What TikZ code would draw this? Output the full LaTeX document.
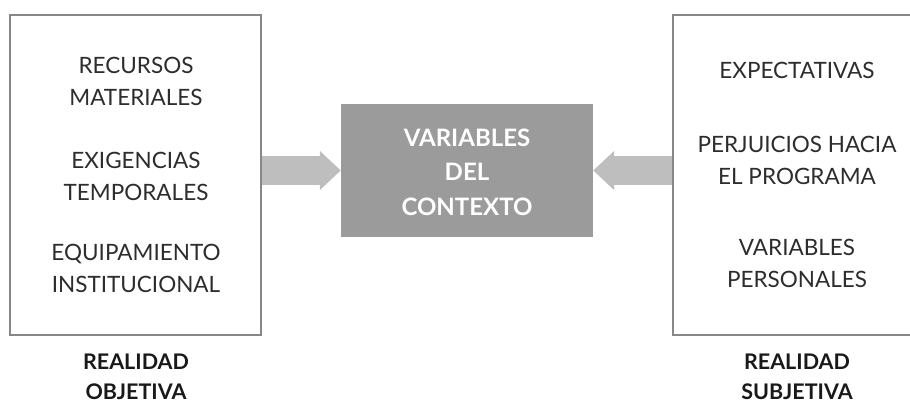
\documentclass[tikz,border=0pt]{standalone}
\usepackage{fontspec}
\setmainfont{Lato}
\usetikzlibrary{arrows.meta}
\definecolor{boxline}{RGB}{135,135,135}
\definecolor{txt}{RGB}{45,45,45}
\definecolor{lbl}{RGB}{25,25,25}
\definecolor{ctrfill}{RGB}{155,155,155}
\definecolor{arrfill}{RGB}{190,190,190}
\tikzset{
  framebox/.style={draw=boxline, line width=2pt, fill=white, inner sep=0pt},
  boxtext/.style={text=txt, font=\fontsize{22.5}{32}\selectfont, align=center, inner sep=0pt},
  bottomlbl/.style={text=lbl, font=\fontsize{21.5}{30}\selectfont\bfseries, align=center, inner sep=0pt},
  ctrbox/.style={fill=ctrfill, inner sep=0pt, minimum width=252pt, minimum height=133pt},
  ctrtext/.style={text=white, font=\fontsize{24}{34.5}\selectfont\bfseries, align=center, inner sep=0pt},
  fatarrow/.style={draw=arrfill, line width=29pt, -{Triangle[width=38pt,length=21pt]}}
}
\begin{document}
\begin{tikzpicture}[x=1pt,y=-1pt]
\useasboundingbox (0,0) rectangle (910,406);
\begin{scope}
\clip (0,0) rectangle (910,406);
\node[framebox, minimum width=251pt, minimum height=320pt] (L) at (135.5,175) {};
\node[framebox, minimum width=250pt, minimum height=320pt] (R) at (798,175) {};
\end{scope}
\node[ctrbox] (C) at (467,170.5) {};
\node[ctrtext] (ct) at (467,172) {VARIABLES\\DEL\\CONTEXTO};
\draw[fatarrow] (L.east |- C.west) -- (C.west);
\draw[fatarrow] (R.west |- C.east) -- (C.east);
\node[boxtext] (l1) at (136,81) {RECURSOS\\MATERIALES};
\node[boxtext] (l2) at (136,176) {EXIGENCIAS\\TEMPORALES};
\node[boxtext] (l3) at (136,268) {EQUIPAMIENTO\\INSTITUCIONAL};
\node[boxtext] (r1) at (797,70) {EXPECTATIVAS};
\node[boxtext] (r2) at (797,160) {PERJUICIOS HACIA\\EL PROGRAMA};
\node[boxtext] (r3) at (797,263) {VARIABLES\\PERSONALES};
\node[bottomlbl] (bl) at (136,377) {REALIDAD\\OBJETIVA};
\node[bottomlbl] (br) at (797,377) {REALIDAD\\SUBJETIVA};
\end{tikzpicture}
\end{document}
